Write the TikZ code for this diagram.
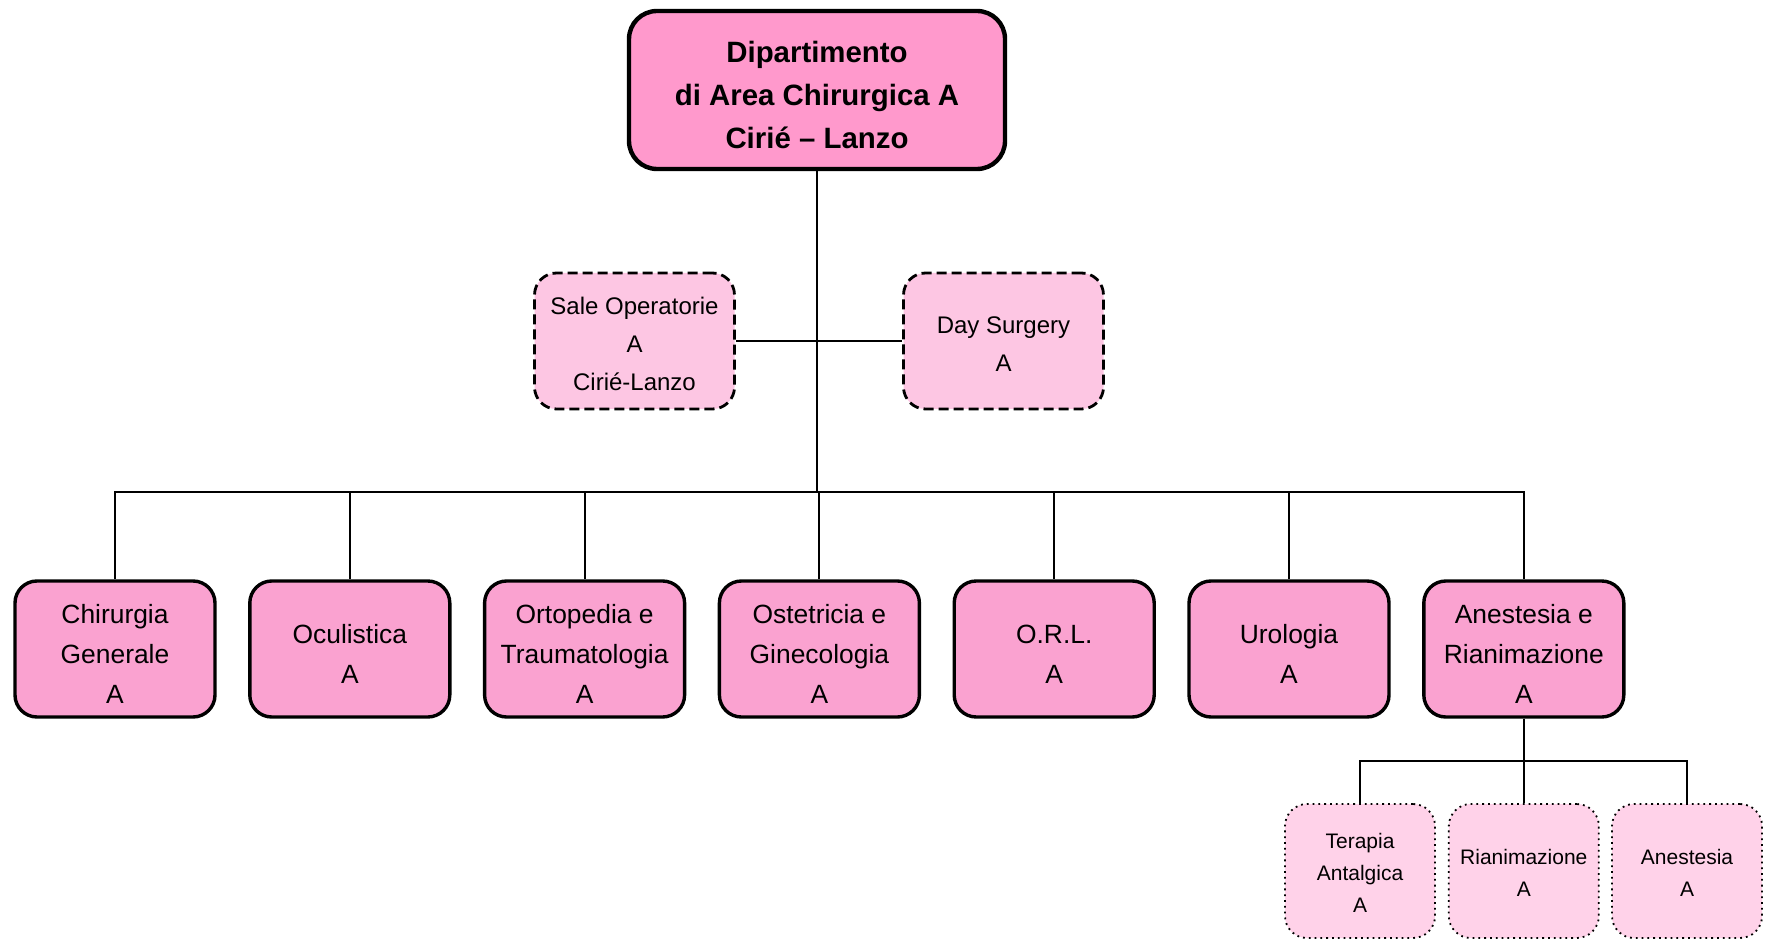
\documentclass[tikz,border=0pt]{standalone}
\usepackage{fontspec}
\setmainfont{Liberation Sans}
\definecolor{rosa}{HTML}{FF99CC}
\definecolor{rosaunit}{HTML}{FAA2D0}
\definecolor{rosadash}{HTML}{FDC6E3}
\definecolor{rosadot}{HTML}{FFD2E9}
\tikzset{
  dept/.style={draw, line width=2.2pt, rounded corners=14pt, fill=rosa, align=flush center,
    text width=180pt, minimum width=188pt, minimum height=79pt, inner sep=0pt,
    font=\fontsize{14.7}{21.5}\selectfont\bfseries,
    execute at begin node={\rule{0pt}{1.06em}}},
  staff/.style={draw, line width=1.4pt, dash pattern=on 5pt off 2.5pt, rounded corners=11pt,
    fill=rosadash, align=flush center, text width=96pt, minimum width=100pt, minimum height=68pt,
    inner sep=0pt, font=\fontsize{12}{18.9}\selectfont,
    execute at begin node={\rule{0pt}{0.96em}}},
  unit/.style={draw, line width=1.7pt, rounded corners=11pt, fill=rosaunit, align=flush center,
    text width=96pt, minimum width=100pt, minimum height=68pt, inner sep=0pt,
    font=\fontsize{13.2}{20}\selectfont,
    execute at begin node={\rule{0pt}{1.1em}}},
  sub/.style={draw, line width=0.9pt, dotted, rounded corners=11pt, fill=rosadot, align=flush center,
    text width=72pt, minimum width=75pt, minimum height=67pt, inner sep=0pt,
    font=\fontsize{10.5}{16}\selectfont,
    execute at begin node={\rule{0pt}{0.89em}}},
  link/.style={line width=1pt}
}
\begin{document}
\begin{tikzpicture}[x=0.5pt,y=-0.5pt]
      \useasboundingbox (0,0) rectangle (1765,940);
      \draw
        (817,90) node[dept] (dip){Dipartimento\\di Area Chirurgica A\\Cirié -- Lanzo}
        (634.5,341) node[staff] (sale){Sale Operatorie\\A\\Cirié-Lanzo}
        (1003.5,341) node[staff] (day){Day Surgery\\A}
        (115,649) node[unit] (u1){Chirurgia\\Generale\\A}
        (349.8,649) node[unit] (u2){Oculistica\\A}
        (584.6,649) node[unit] (u3){Ortopedia e\\Traumatologia\\A}
        (819.4,649) node[unit] (u4){Ostetricia e\\Ginecologia\\A}
        (1054.2,649) node[unit] (u5){O.R.L.\\A}
        (1289,649) node[unit] (u6){Urologia\\A}
        (1523.8,649) node[unit] (u7){Anestesia e\\Rianimazione\\A}
        (1360,871) node[sub] (s1){Terapia\\Antalgica\\A}
        (1523.8,871) node[sub] (s2){Rianimazione\\A}
        (1687,871) node[sub] (s3){Anestesia\\A};
      \coordinate (bus) at (817,492);
      \coordinate (subbus) at (1523.8,761);
      \begin{scope}[link]
        \draw (dip) to (bus);
        \draw (sale) to (day);
        \draw (bus) -| (u1);
        \draw (bus) -| (u2);
        \draw (bus) -| (u3);
        \draw (bus) -| (u4);
        \draw (bus) -| (u5);
        \draw (bus) -| (u6);
        \draw (bus) -| (u7);
        \draw (u7) to (subbus);
        \draw (subbus) -| (s1);
        \draw (subbus) -| (s2);
        \draw (subbus) -| (s3);
      \end{scope}
    \end{tikzpicture}
\end{document}
